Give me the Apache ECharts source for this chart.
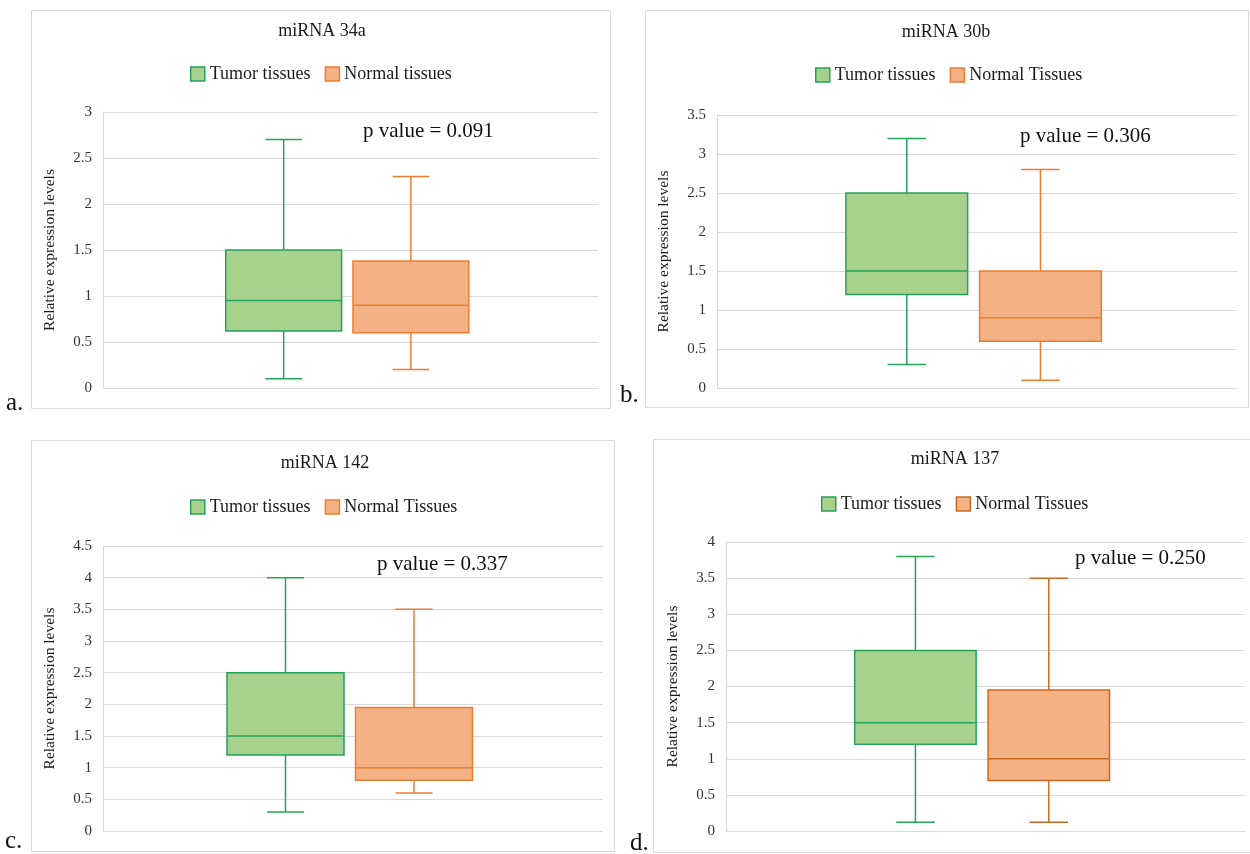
<!DOCTYPE html>
<html>
<head>
<meta charset="utf-8">
<title>miRNA relative expression</title>
<script src="https://cdn.jsdelivr.net/npm/echarts@6/dist/echarts.min.js"></script>
<style>
  html, body { margin: 0; padding: 0; background: #fff; }
  #chart { width: 1250px; height: 854px; }
</style>
</head>
<body>
<div id="chart"></div>
<script>
  // box stats per panel: [min, Q1, median, Q3, max]
  var panelTitles = ['miRNA 34a', 'miRNA 30b', 'miRNA 142', 'miRNA 137'];
  var panelLetters = ['a.', 'b.', 'c.', 'd.'];
  var tumorStats = [
    [0.1, 0.62, 0.95, 1.5, 2.7],
    [0.3, 1.2, 1.5, 2.5, 3.2],
    [0.3, 1.2, 1.5, 2.5, 4.0],
    [0.12, 1.2, 1.5, 2.5, 3.8]
  ];
  var normalStats = [
    [0.2, 0.6, 0.9, 1.38, 2.3],
    [0.1, 0.6, 0.9, 1.5, 2.8],
    [0.6, 0.8, 1.0, 1.95, 3.5],
    [0.12, 0.7, 1.0, 1.95, 3.5]
  ];
  var yMax = [3, 3.5, 4.5, 4];
  var pValues = ['p value = 0.091', 'p value = 0.306', 'p value = 0.337', 'p value = 0.250'];
  var tumorName = 'Tumor tissues';
  var normalNames = ['Normal tissues', 'Normal Tissues', 'Normal Tissues', 'Normal Tissues'];

  var FONT = "'Liberation Serif', 'Times New Roman', serif";
  var TUMOR_FILL = '#a9d18e', TUMOR_LINE = '#25a35a';
  var NORMAL_FILL = '#f4b183';
  var normalLine = ['#ed7d31', '#ed7d31', '#ed7d31', '#c96a24'];

  // panel frames / positions (pixels)
  var layout = [
    { box: [31, 10, 579, 398], grid: [103, 112, 495, 276], title: [322, 31], legend: [190, 65], p: [363, 131], letter: [6, 403] },
    { box: [645, 10, 603, 397], grid: [717, 115, 520, 273], title: [946, 32], legend: [815, 66], p: [1020, 136], letter: [620, 395] },
    { box: [31, 440, 583, 411], grid: [103, 546, 500, 285], title: [325, 463], legend: [190, 498], p: [377, 564], letter: [5, 841] },
    { box: [653, 439, 610, 413], grid: [726, 542, 519, 289], title: [955, 459], legend: [821, 495], p: [1075, 558], letter: [630, 843] }
  ];

  function boxRenderer(offset, fill, stroke) {
    return function (params, api) {
      var cat = api.value(0);
      var band = api.size([1, 0])[0];
      var cx = api.coord([cat, 0])[0] + offset * band;
      var y = [1, 2, 3, 4, 5].map(function (d) { return api.coord([cat, api.value(d)])[1]; });
      var hw = band * 0.117, cw = band * 0.037;
      var ls = { stroke: stroke, lineWidth: 1.5 };
      return {
        type: 'group',
        children: [
          { type: 'line', shape: { x1: cx, y1: y[0], x2: cx, y2: y[1] }, style: ls },
          { type: 'line', shape: { x1: cx, y1: y[3], x2: cx, y2: y[4] }, style: ls },
          { type: 'line', shape: { x1: cx - cw, y1: y[0], x2: cx + cw, y2: y[0] }, style: ls },
          { type: 'line', shape: { x1: cx - cw, y1: y[4], x2: cx + cw, y2: y[4] }, style: ls },
          { type: 'rect', shape: { x: cx - hw, y: y[3], width: hw * 2, height: y[1] - y[3] },
            style: { fill: fill, stroke: stroke, lineWidth: 1.5 } },
          { type: 'line', shape: { x1: cx - hw, y1: y[2], x2: cx + hw, y2: y[2] }, style: ls }
        ]
      };
    };
  }

  var grids = [], xAxes = [], yAxes = [], series = [], legends = [], graphics = [];

  panelTitles.forEach(function (t, i) {
    var L = layout[i];
    grids.push({ left: L.grid[0], top: L.grid[1], width: L.grid[2], height: L.grid[3] });
    xAxes.push({
      type: 'category', gridIndex: i, data: [t],
      axisLine: { show: false }, axisTick: { show: false }, axisLabel: { show: false }
    });
    yAxes.push({
      type: 'value', gridIndex: i, min: 0, max: yMax[i], interval: 0.5,
      name: 'Relative expression levels', nameLocation: 'middle', nameGap: 45,
      nameTextStyle: { fontFamily: FONT, fontSize: 15.5, color: '#1a1a1a' },
      axisLine: { show: true, lineStyle: { color: '#d9d9d9' } },
      axisTick: { show: false },
      axisLabel: { fontFamily: FONT, fontSize: 15, color: '#333', margin: 11 },
      splitLine: { lineStyle: { color: '#d9d9d9', width: 1 } }
    });
    series.push({
      type: 'custom', name: tumorName, xAxisIndex: i, yAxisIndex: i,
      encode: { x: 0, y: [1, 2, 3, 4, 5] },
      itemStyle: { color: TUMOR_FILL, borderColor: TUMOR_LINE },
      renderItem: boxRenderer(-0.135, TUMOR_FILL, TUMOR_LINE),
      data: [[0].concat(tumorStats[i])]
    });
    series.push({
      type: 'custom', name: normalNames[i], xAxisIndex: i, yAxisIndex: i,
      encode: { x: 0, y: [1, 2, 3, 4, 5] },
      itemStyle: { color: NORMAL_FILL, borderColor: normalLine[i] },
      renderItem: boxRenderer(0.122, NORMAL_FILL, normalLine[i]),
      data: [[0].concat(normalStats[i])]
    });
    legends.push({
      left: L.legend[0], top: L.legend[1], icon: 'rect', padding: 0,
      itemWidth: 14, itemHeight: 14, itemGap: 14, selectedMode: false,
      textStyle: { fontFamily: FONT, fontSize: 18, color: '#1a1a1a' },
      data: [
        { name: tumorName, itemStyle: { color: TUMOR_FILL, borderColor: TUMOR_LINE, borderWidth: 1.5 } },
        { name: normalNames[i], itemStyle: { color: NORMAL_FILL, borderColor: normalLine[i], borderWidth: 1.5 } }
      ]
    });
    graphics.push({
      type: 'rect', silent: true, z: -1,
      shape: { x: L.box[0] + 0.5, y: L.box[1] + 0.5, width: L.box[2], height: L.box[3] },
      style: { fill: 'none', stroke: '#d9d9d9', lineWidth: 1 }
    });
    graphics.push({
      type: 'text', x: L.title[0], y: L.title[1],
      style: { text: t, fontFamily: FONT, fontSize: 18, fill: '#1a1a1a', align: 'center', verticalAlign: 'middle' }
    });
    graphics.push({
      type: 'text', x: L.p[0], y: L.p[1],
      style: { text: pValues[i], fontFamily: FONT, fontSize: 21, fill: '#111', align: 'left', verticalAlign: 'middle' }
    });
    graphics.push({
      type: 'text', x: L.letter[0], y: L.letter[1],
      style: { text: panelLetters[i], fontFamily: FONT, fontSize: 25, fill: '#111', align: 'left', verticalAlign: 'middle' }
    });
  });

  var myChart = echarts.init(document.getElementById('chart'));
  myChart.setOption({
    backgroundColor: '#fff',
    animation: false,
    grid: grids,
    xAxis: xAxes,
    yAxis: yAxes,
    legend: legends,
    graphic: graphics,
    series: series
  });
</script>
</body>
</html>
